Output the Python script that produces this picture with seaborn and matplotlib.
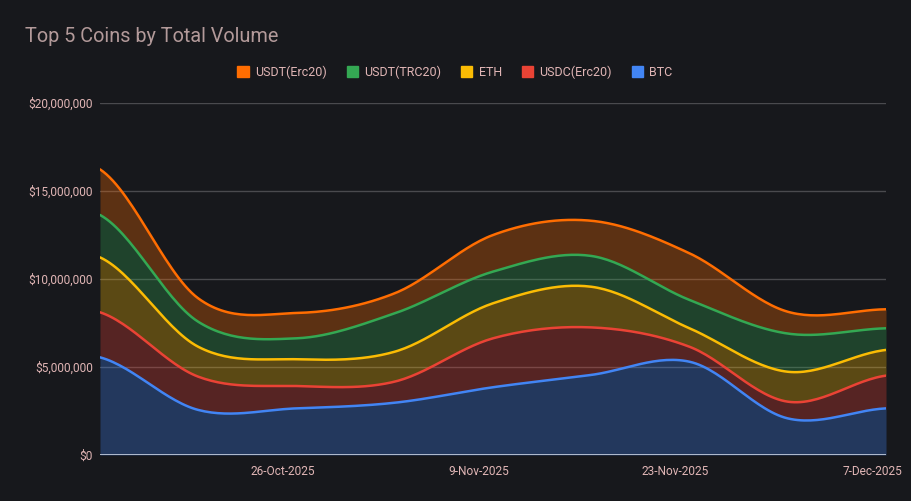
import numpy as np
import pandas as pd
import matplotlib
matplotlib.use("Agg")
import matplotlib.pyplot as plt
import matplotlib.dates as mdates
from matplotlib.ticker import FuncFormatter
from matplotlib.patches import Patch
import seaborn as sns

# weekly totals (USD)
dates = pd.date_range("2025-10-13", "2025-12-08", freq="7D")
btc = [5.55, 2.56, 2.65, 2.97, 3.85, 4.55, 5.30, 2.08, 2.65]
usdc_erc20 = [2.56, 1.89, 1.27, 1.20, 2.78, 2.70, 0.85, 0.95, 1.86]
eth = [3.12, 1.70, 1.52, 1.70, 1.99, 2.31, 1.05, 1.70, 1.46]
usdt_trc20 = [2.41, 1.42, 1.19, 2.18, 1.80, 1.75, 1.61, 2.17, 1.23]
usdt_erc20 = [2.59, 1.33, 1.44, 1.14, 2.08, 2.00, 2.65, 1.24, 1.08]

series = ["BTC", "USDC(Erc20)", "ETH", "USDT(TRC20)", "USDT(Erc20)"]
values = [btc, usdc_erc20, eth, usdt_trc20, usdt_erc20]
colors = ["#4285f4", "#ea4335", "#fbbc04", "#34a853", "#ff6d01"]
bg = "#17181c"


def smooth(x, y, n=30):
    # cardinal spline through the points, only to draw the curve shape
    x = np.asarray(x, float)
    y = np.asarray(y, float)
    xs, ys = [], []
    for i in range(len(x) - 1):
        p0 = y[i - 1] if i > 0 else y[i]
        p3 = y[i + 2] if i + 2 < len(y) else y[i + 1]
        m1 = (y[i + 1] - p0) / 2
        m2 = (p3 - y[i]) / 2
        t = np.linspace(0, 1, n, endpoint=False)
        h00 = 2 * t**3 - 3 * t**2 + 1
        h10 = t**3 - 2 * t**2 + t
        h01 = -2 * t**3 + 3 * t**2
        h11 = t**3 - t**2
        xs.append(x[i] + t * (x[i + 1] - x[i]))
        ys.append(h00 * y[i] + h10 * m1 + h01 * y[i + 1] + h11 * m2)
    xs.append([x[-1]])
    ys.append([y[-1]])
    return np.concatenate(xs), np.concatenate(ys)


sns.set_theme(style="dark")
plt.rcParams["font.family"] = ["Roboto", "DejaVu Sans"]

fig = plt.figure(figsize=(9.11, 5.01), dpi=100, facecolor=bg)
ax = fig.add_axes([100 / 911, 46 / 501, 786 / 911, 352 / 501])
ax.set_facecolor(bg)

xnum = mdates.date2num(dates)
cum = np.cumsum(np.array(values) * 1e6, axis=0)
prev = None
for i, name in enumerate(series):
    xs, ys = smooth(xnum, cum[i])
    base = prev if prev is not None else np.zeros_like(ys)
    ax.fill_between(xs, base, ys, color=colors[i], alpha=0.3, linewidth=0, zorder=2)
    df = pd.DataFrame({"x": xs, "y": ys})
    sns.lineplot(data=df, x="x", y="y", ax=ax, color=colors[i], linewidth=1.8, zorder=3)
    prev = ys

ax.set_xlim(xnum[0], xnum[-1])
ax.set_ylim(0, 20e6)
ax.set_yticks([0, 5e6, 10e6, 15e6, 20e6])
ax.yaxis.set_major_formatter(FuncFormatter(lambda v, p: f"${v:,.0f}"))
ticks = pd.to_datetime(["2025-10-26", "2025-11-09", "2025-11-23", "2025-12-07"])
ax.set_xticks(mdates.date2num(ticks))
ax.set_xticklabels([f"{d.day}-{d.strftime('%b-%Y')}" for d in ticks])
ax.set_xlabel("")
ax.set_ylabel("")
ax.grid(axis="y", color="#4a4a4e", linewidth=1)
ax.grid(axis="x", visible=False)
ax.axhline(0, color="#c9d1e0", linewidth=1.2, zorder=4)
for s in ax.spines.values():
    s.set_visible(False)
ax.tick_params(colors="#e0b5b5", labelsize=8.6, length=0)
ax.tick_params(axis="x", pad=7)
ax.tick_params(axis="y", pad=5)

fig.text(25 / 911, 1 - 37 / 501, "Top 5 Coins by Total Volume", color="#b39a9a",
         fontsize=14.3, va="center", ha="left")

handles = [Patch(facecolor=colors[i], edgecolor=colors[i]) for i in range(4, -1, -1)]
labels = [series[i] for i in range(4, -1, -1)]
leg = fig.legend(handles, labels, loc="center", bbox_to_anchor=(455 / 911, 1 - 72 / 501),
                 ncol=5, frameon=False, fontsize=9, handlelength=0.9, handleheight=0.9,
                 handletextpad=0.5, columnspacing=1.6)
for t in leg.get_texts():
    t.set_color("#e0b5b5")

fig.savefig("out.png", dpi=100, facecolor=bg)
